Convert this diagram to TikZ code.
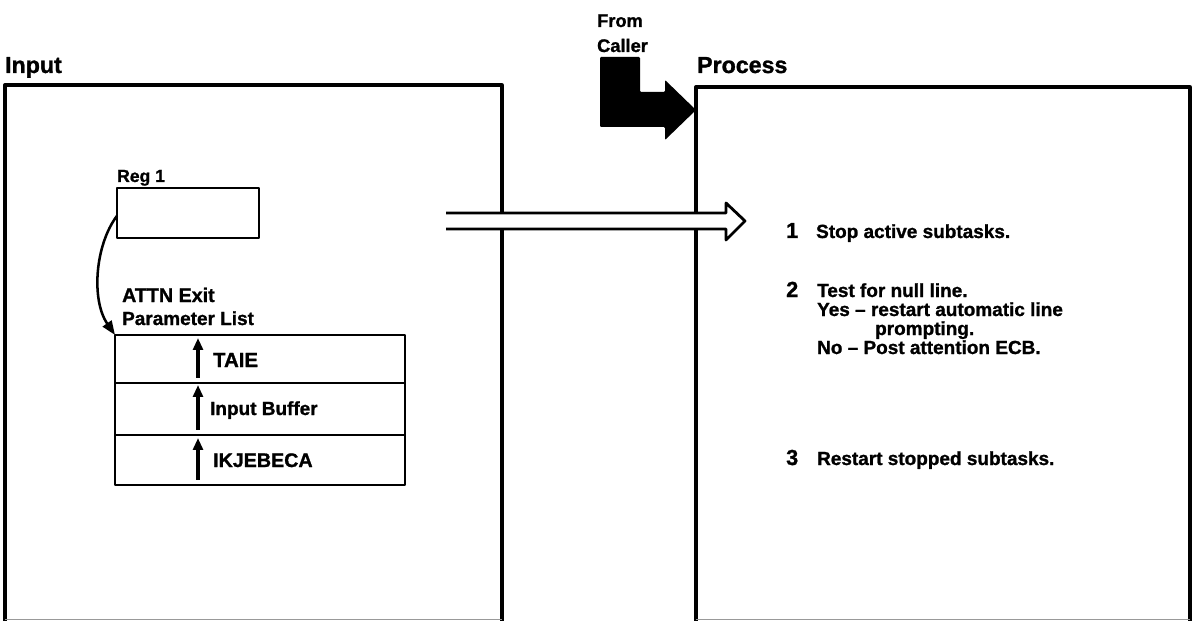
\documentclass[tikz,border=0pt]{standalone}
\usepackage{fontspec}
\setmainfont{Liberation Sans}[BoldFeatures={FakeBold=1.2}]
\usetikzlibrary{arrows.meta,positioning}

\begin{document}
\begin{tikzpicture}[x=0.05cm,y=-0.05cm,line join=round,
	frame/.style={line width=4.6pt},
	heading/.style={font=\bfseries\fontsize{33}{36}\selectfont,inner sep=0pt,anchor=base west},
	smalltext/.style={font=\bfseries\fontsize{27}{29}\selectfont,inner sep=0pt,anchor=base west},
	steptext/.style={font=\bfseries\fontsize{27}{29}\selectfont,inner sep=0pt,anchor=base west},
	stepnum/.style={font=\bfseries\fontsize{31}{32}\selectfont,inner sep=0pt,anchor=base west},
	regbox/.style={draw,line width=4pt,minimum width=7.1cm,minimum height=2.5cm,anchor=north west,inner sep=0pt,outer sep=0pt},
	cell/.style={draw,line width=3.8pt,minimum width=14.5cm,minimum height=#1,anchor=north west,inner sep=0pt,outer sep=0pt},
	cell/.default=2.5cm,
	ptr/.style={line width=4.6pt,-{Triangle[length=17pt,width=14pt]}},
	curvearrow/.style={line width=3.6pt,-{Triangle[length=20pt,width=15pt]}},
]
	\useasboundingbox (0,0) rectangle (1195,621);
	
	\draw[frame] (5,621) -- (5,85) -- (502,85) -- (502,621);
	\draw[frame] (696,621) -- (696,87) -- (1190,87) -- (1190,621);
	\draw[black!40,line width=1.4pt] (5,619) -- (502,619) (696,619) -- (1190,619);
	
	\node[heading] (input) at (5,73) {Input};
	\node[heading] (process) at (697,73) {Process};
	
	\node[smalltext,font=\bfseries\fontsize{26}{28}\selectfont] (from) at (597,27) {From};
	\node[smalltext,font=\bfseries\fontsize{26}{28}\selectfont] (caller) at (597,52) {Caller};
	\fill[rounded corners=1.5pt] (600,57) -- (640,57) -- (640,92) -- (665,92) -- (665,80) -- (696,110)
		-- (665,140) -- (665,127) -- (600,127) -- cycle;
	
	\node[smalltext,font=\bfseries\fontsize{25}{27}\selectfont] (reglabel) at (117,182) {Reg 1};
	\node[regbox] (reg) at (117,188) {};
	
	\node[steptext,font=\bfseries\fontsize{28}{30}\selectfont] (attn) at (122,302) {ATTN Exit};
	\node[steptext] (parm) at (122,325) {Parameter List};
	
	\node[cell=2.4cm] (taie) at (115,335) {};
	\node[cell=2.6cm] (buf) at (taie.south west) {};
	\node[cell] (ikj) at (buf.south west) {};
	\draw[ptr] ([shift={(83,-5)}]taie.south west) -- ([shift={(83,3)}]taie.north west);
	\draw[ptr] ([shift={(83,-5)}]buf.south west) -- ([shift={(83,2)}]buf.north west);
	\draw[ptr] ([shift={(83,-5)}]ikj.south west) -- ([shift={(83,3)}]ikj.north west);
	\node[smalltext,font=\bfseries\fontsize{29}{31}\selectfont] (taietext) at (213,367) {TAIE};
	\node[smalltext] (buftext) at (210,415) {Input Buffer};
	\node[smalltext,font=\bfseries\fontsize{28}{31}\selectfont] (ikjtext) at (213,467) {IKJEBECA};
	
	\draw[curvearrow] ([yshift=-4]reg.west) .. controls (95,245) and (91,300) .. (taie.north west);
	
	\path[fill=white] (446,213) -- (726,213) -- (726,203) -- (745,221) -- (726,240) -- (726,229) -- (446,229) -- cycle;
	\draw[line width=4pt] (446,213) -- (726,213) -- (726,203) -- (745,221) -- (726,240) -- (726,229) -- (446,229);
	
	\node[stepnum] (num1) at (786,238) {1};
	\node[steptext] (step1) at (816,238) {Stop active subtasks.};
	\node[stepnum] (num2) at (786,297) {2};
	\node[steptext] (step2) at (817,297) {Test for null line.};
	\node[steptext] (yes) at (817,316) {Yes -- restart automatic line};
	\node[steptext] (prompt) at (875,335) {prompting.};
	\node[steptext] (no) at (817,354) {No -- Post attention ECB.};
	\node[stepnum] (num3) at (786,465) {3};
	\node[steptext] (step3) at (817,465) {Restart stopped subtasks.};
\end{tikzpicture}
\end{document}
